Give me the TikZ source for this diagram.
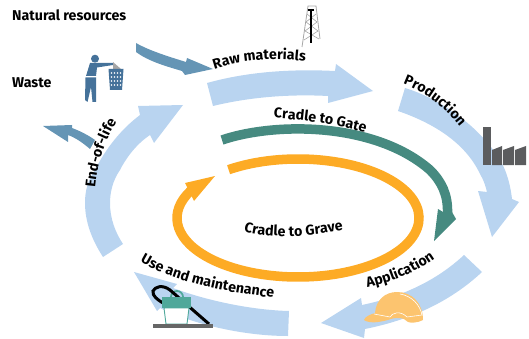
\documentclass[tikz,border=0pt]{standalone}
\usepackage{fontspec}
\setmainfont{Fira Sans}
\usetikzlibrary{decorations.text}
\definecolor{lightflow}{HTML}{B9D4F0}
\definecolor{darkflow}{HTML}{6595B5}
\definecolor{gatecol}{HTML}{468A80}
\definecolor{gravecol}{HTML}{FDAB25}
\definecolor{iconblue}{HTML}{45729A}
\definecolor{factorycol}{HTML}{5B5C5E}
\definecolor{hatcol}{HTML}{FCC46F}
\definecolor{basketcol}{HTML}{4FA89A}
\newcommand{\lblfont}{\fontsize{14.2}{16}\bfseries}
\tikzset{
	lifelabel/.style = {text = black, anchor = base west, inner sep = 0pt, font = \lblfont},
	curvelabel/.style 2 args = {decorate, decoration = {text along path, text align = center, text = {|\lblfont|#1}, #2}},
	lifeflow/.style = {fill = lightflow},
	sideflow/.style = {fill = darkflow},
	gateband/.style = {draw = gatecol, line width = 9.5pt},
	graveband/.style = {draw = gravecol, line width = 9.5pt}
}

\begin{document}
\begin{tikzpicture}[x=1pt, y=-1pt]
	\useasboundingbox (0,0) rectangle (529,339);

	\coordinate (gravec) at (298,218);

	\node[lifelabel] (natres) at (12,21) {Natural resources};
	\node[lifelabel] (waste) at (12,88) {Waste};

	% life cycle arrows
	\fill[lifeflow] (207,83) .. controls (250,71) and (295,69) .. (335,71) -- (336,64) -- (373,91) -- (328,103) -- (328,96) .. controls (290,94) and (250,97) .. (213,106) -- cycle;
	\fill[lifeflow] (405,88) .. controls (445,100) and (490,135) .. (505,170) .. controls (509,180) and (511,190) .. (512,199) -- (519,202) -- (492,237) -- (478,191) -- (487,192) .. controls (484,180) and (482,178) .. (478,170) .. controls (462,140) and (430,122) .. (398,111) -- cycle;
	\fill[lifeflow] (464,255) -- (482,272) .. controls (450,302) and (410,320) .. (365,329) -- (364,338) -- (321,323) -- (361,298) -- (362,305) .. controls (400,297) and (435,282) .. (464,255) -- cycle;
	\fill[lifeflow] (289,311) -- (288,336) .. controls (245,336) and (195,325) .. (160,308) -- (157,311) -- (134,272) -- (177,284) -- (173,288) .. controls (205,300) and (250,310) .. (289,311) -- cycle;
	\fill[lifeflow] (103,257) .. controls (92,240) and (85,222) .. (85,203) .. controls (85,190) and (88,180) .. (95,170) .. controls (105,150) and (120,130) .. (140,115) -- (138,106) -- (183,105) -- (154,143) -- (150,135) .. controls (135,145) and (125,160) .. (120,170) .. controls (113,180) and (110,192) .. (110,203) .. controls (110,218) and (115,232) .. (123,244) -- cycle;

	% in and out
	\fill[sideflow] (136,43) .. controls (150,51) and (170,57) .. (186,62) -- (187,58) -- (213,69) -- (185,75) -- (182,71) .. controls (165,66) and (148,61) .. (136,52) -- cycle;
	\fill[sideflow] (43,126) -- (72,125) -- (72,128) .. controls (80,131) and (88,135) .. (95,140) -- (90,149) .. controls (83,143) and (76,138) .. (68,135) -- (68,142) -- cycle;

	% cradle to gate
	\draw[gateband] (222,140) .. controls (275,122) and (375,122) .. (430,170) .. controls (442,182) and (448,195) .. (447.5,213);
	\fill[gatecol] (456,219) -- (434,241) -- (438,209) -- (443,212) -- (452,212) -- cycle;

	% cradle to grave
	\draw[graveband] ([shift={(-125:121 and 59)}]gravec) arc[start angle = -125, end angle = 212, x radius = 121, y radius = 59];
	\fill[gravecol] (215,176) -- (185,183) -- (194,201) -- cycle;

	% labels on the curves
	\path[curvelabel = {Raw materials}{}] (212,70) .. controls (240,60) and (275,57) .. (308,62);
	\path[curvelabel = {Production}{}] (403,84) .. controls (425,92) and (445,108) .. (460,127);
	\path[curvelabel = {Cradle to Gate}{}] (274,118) .. controls (305,120) and (335,124) .. (365,133);
	\path[curvelabel = {Cradle to Grave}{}] (244,231) .. controls (265,238) and (305,238) .. (343,230);
	\path[curvelabel = {Application}{}] (365,288) .. controls (390,283) and (415,273) .. (437,257);
	\path[curvelabel = {Use and maintenance}{}] (139,261) .. controls (170,280) and (220,292) .. (275,298);
	\path[curvelabel = {End-of-life}{}] (95,188) .. controls (97,165) and (104,142) .. (117,121);

	% tower
	\draw[gray!70, line width = 0.8pt] (302,47) -- (308,6) -- (316,6) -- (320,39);
	\draw[gray!70, line width = 0.6pt] (307,14) -- (317,22) -- (305,31) -- (319,39) (316,14) -- (306,22) -- (318,31) -- (304,40);
	\draw[black, line width = 1.6pt] (311,9) -- (311,43);
	\draw[black, line width = 2pt] (308,10) -- (314,10);

	% factory
	\fill[factorycol] (483,127) rectangle (491,165);
	\fill[factorycol] (492,165) -- (492,150) -- (502,146) -- (502,165) -- cycle;
	\fill[factorycol] (503,165) -- (503,150) -- (514,146) -- (514,165) -- cycle;
	\fill[factorycol] (515,165) -- (515,150) -- (526,146) -- (526,165) -- cycle;

	% person and bin
	\fill[iconblue] (95,58.7) circle (4);
	\fill[iconblue] (90,63) -- (113,63) -- (113,65) -- (97,67.5) -- (96,76) -- (86,76) -- cycle;
	\fill[iconblue] (85.5,77.5) -- (96,77.5) -- (96,102) -- (92.5,102) -- (91,87) -- (87.5,102) -- (85,100) -- cycle;
	\fill[gray!70] (113,62) -- (121,69) -- (113,69) -- cycle;
	\fill[iconblue] (108.5,69) -- (123.5,69) -- (122,90) -- (110,90) -- cycle;
	\foreach \row in {73,77,81,85}
		\foreach \col in {111.5,114.5,117.5,120.5}
			\fill[white] (\col,\row) circle (0.8);

	% basket
	\draw[basketcol, line width = 1.8pt] (177,297) circle (6);
	\draw[black, line width = 3pt] (209,324) -- (170,290) .. controls (162,284) and (155,287) .. (153,291) .. controls (152,296) and (158,300) .. (163,303);
	\draw[basketcol, fill = white, line width = 0.9pt] (164,308) -- (166,324) -- (187,324) -- (189,308) -- cycle;
	\fill[basketcol] (162,297) rectangle (191,308);
	\fill[gray!80!black] (153,324) rectangle (213,328);

	% hat
	\fill[hatcol] (364,320) .. controls (365,316) and (372,314) .. (375,313) .. controls (376,300) and (385,292) .. (397,292) .. controls (412,292) and (423,303) .. (423,320) .. controls (418,323) and (410,323) .. (408,322) .. controls (404,317) and (395,317) .. (388,320) .. controls (380,322) and (370,324) .. (364,320) -- cycle;
	\draw[white, line width = 0.6pt] (374,314) -- (390,317) .. controls (392,313) and (400,310) .. (407,317) -- (422,315) .. controls (420,305) and (412,296) .. (400,294);
\end{tikzpicture}
\end{document}
